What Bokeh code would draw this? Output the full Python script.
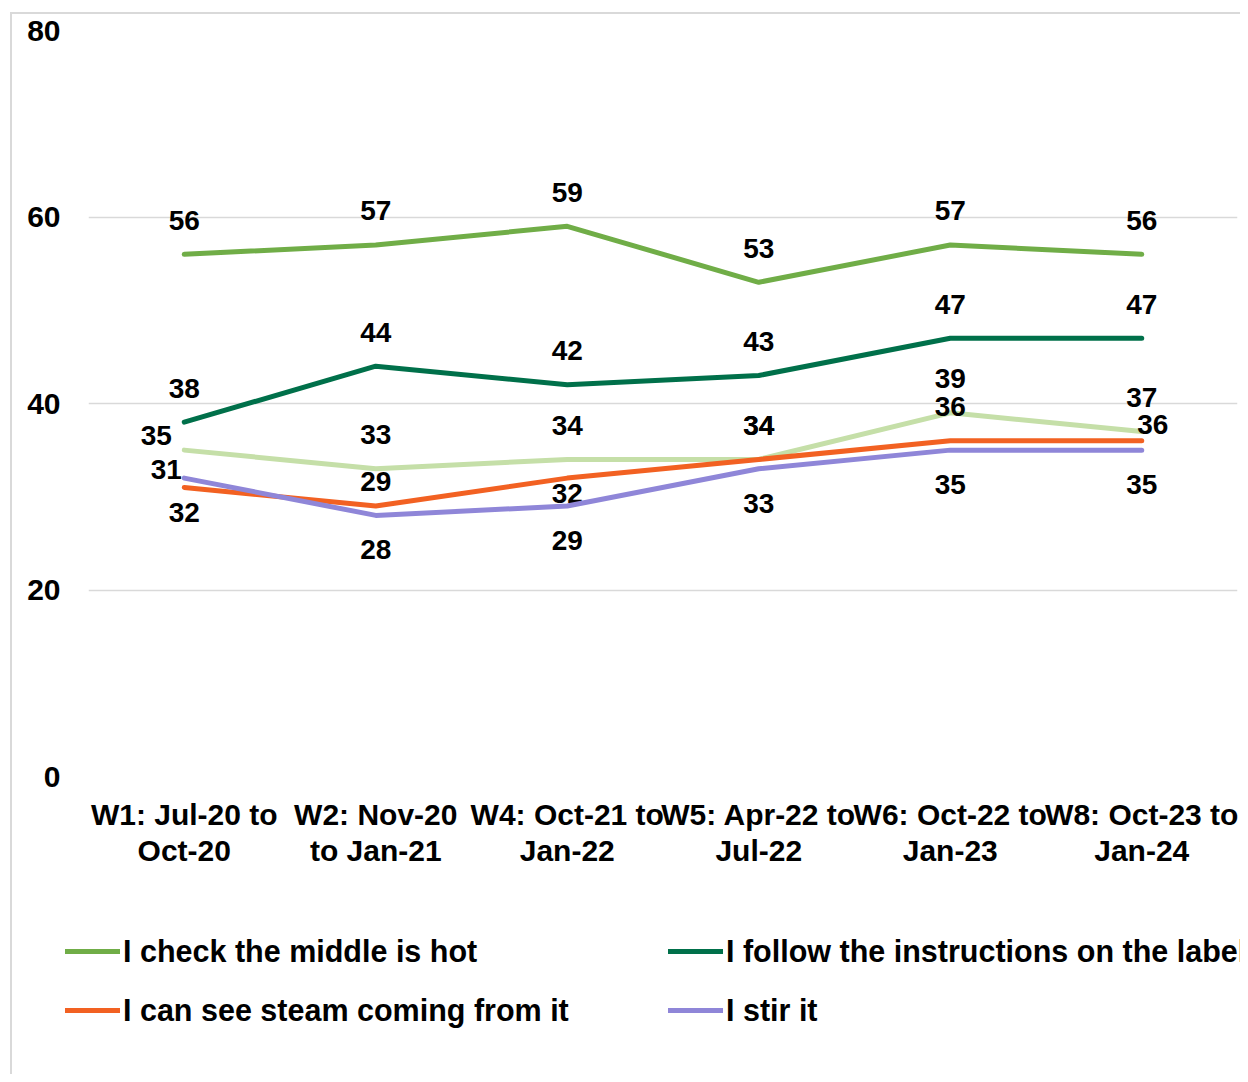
from bokeh.plotting import figure
from bokeh.layouts import column
from bokeh.models import FactorRange, Range1d, Legend, LegendItem, ColumnDataSource
from bokeh.core.properties import value
from bokeh.embed import file_html
from bokeh.resources import INLINE

# ---------------- data ----------------
waves = ["W1: Jul-20 to\nOct-20", "W2: Nov-20\nto Jan-21", "W4: Oct-21 to\nJan-22",
         "W5: Apr-22 to\nJul-22", "W6: Oct-22 to\nJan-23", "W8: Oct-23 to\nJan-24"]
check_middle = [56, 57, 59, 53, 57, 56]
follow_label = [38, 44, 42, 43, 47, 47]
unlisted_series = [35, 33, 34, 34, 39, 37]
see_steam = [31, 29, 32, 34, 36, 36]
stir_it = [32, 28, 29, 33, 35, 35]
y_ticks = [0, 20, 40, 60, 80]

# ---------------- styles ----------------
FONT = "Liberation Sans"
series = [
    ("I check the middle is hot", check_middle, "#70ad47",
     [(0, -34)] * 6),
    ("I follow the instructions on the label", follow_label, "#00704a",
     [(0, -34)] * 6),
    (None, unlisted_series, "#c5dfa8",
     [(-28, -15), (0, -34), (0, -34), (0, -34), (0, -34), (0, -34)]),
    ("I can see steam coming from it", see_steam, "#f26122",
     [(-18, -18), (0, -25), (0, 15), (0, -34), (0, -34), (11, -16)]),
    ("I stir it", stir_it, "#8f86d8",
     [(0, 34), (0, 34), (0, 34), (0, 35), (0, 34), (0, 34)]),
]

p = figure(width=1240, height=896, output_backend="svg", toolbar_location=None,
           x_range=FactorRange(factors=waves, range_padding=0),
           y_range=Range1d(0, 80),
           min_border_left=88, min_border_right=3, min_border_top=30, min_border_bottom=120)
p.frame_align = False
p.outline_line_color = None
p.background_fill_color = "white"
p.border_fill_color = None

p.xgrid.grid_line_color = None
p.ygrid.grid_line_color = "#d9d9d9"
p.ygrid.grid_line_width = 1.5
p.yaxis.ticker = y_ticks

for ax in (p.xaxis[0], p.yaxis[0]):
    ax.axis_line_color = None
    ax.major_tick_line_color = None
    ax.minor_tick_line_color = None
    ax.major_tick_out = 0
    ax.major_tick_in = 0
    ax.major_label_text_font = FONT
    ax.major_label_text_font_style = "bold"
    ax.major_label_text_color = "black"
    ax.major_label_text_font_size = "30px"
p.yaxis.major_label_standoff = 28
p.xaxis.major_label_standoff = 21
p.xaxis.major_label_text_line_height = 1.1

# legend strip below the chart (its lines fall outside its own view)
q = figure(width=1240, height=178, output_backend="svg", toolbar_location=None,
           x_range=FactorRange(factors=waves, range_padding=0),
           y_range=Range1d(1000, 1001),
           x_axis_location=None, y_axis_location=None,
           min_border_left=0, min_border_right=0, min_border_top=0, min_border_bottom=0)
q.frame_align = False
q.outline_line_color = None
q.background_fill_color = None
q.border_fill_color = None
q.grid.grid_line_color = None

items = []
for name, vals, color, offs in series:
    src = ColumnDataSource(dict(x=waves, y=vals, t=[str(v) for v in vals],
                                dx=[o[0] for o in offs], dy=[o[1] for o in offs]))
    p.line("x", "y", source=src, line_color=color, line_width=5,
           line_cap="round", line_join="round")
    p.text("x", "y", text="t", source=src, x_offset="dx", y_offset="dy",
           text_align="center", text_baseline="middle",
           text_font=value(FONT), text_font_style="bold",
           text_font_size="28px", text_color="black")
    if name:
        r = q.line("x", "y", source=src, line_color=color, line_width=5,
                   line_cap="round", line_join="round")
        items.append(LegendItem(label=name, renderers=[r]))

legend = Legend(items=items, orientation="horizontal", ncols=2,
                location=(65, 44), padding=0, margin=0,
                border_line_color=None, background_fill_alpha=0,
                glyph_width=55, glyph_height=40, label_height=40, label_width=526,
                label_standoff=3, spacing=19,
                label_text_font=FONT, label_text_font_style="bold",
                label_text_font_size="30.5px", label_text_color="black")
q.add_layout(legend, "center")

layout = column(p, q, spacing=0)
layout.styles = {
    "background": "linear-gradient(#d9d9d9,#d9d9d9) 10px 12px / 2px 100% no-repeat, "
                  "linear-gradient(#d9d9d9,#d9d9d9) 10px 12px / 100% 2px no-repeat, white"
}

open("out.html", "w").write(file_html(layout, INLINE))
